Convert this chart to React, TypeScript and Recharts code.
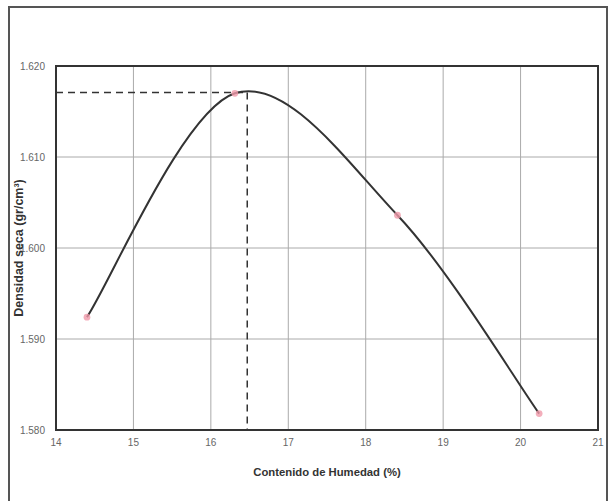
import React from 'react'
import {
  ComposedChart, Line, Scatter, XAxis, YAxis, ZAxis, CartesianGrid, ReferenceLine, ReferenceArea
} from 'recharts'

// measured points (humidity %, dry density)
const humidity = [14.4, 16.31, 18.41, 20.24]
const density = [1.5924, 1.617, 1.6036, 1.5818]

// optimum
const optHumidity = 16.47
const maxDensity = 1.6171

const xTicks = [14, 15, 16, 17, 18, 19, 20, 21]
const yTicks = [1.58, 1.59, 1.6, 1.61, 1.62]

const points = humidity.map((x, i) => ({ x, y: density[i] }))

const font = 'Liberation Sans, Arial, sans-serif'
const tickStyle = { fill: '#666', fontSize: 10, fontFamily: font }

// spreadsheet-style smoothed line (catmull-rom, 1/6 tangents, ends doubled)
function smoothCurve(context: any) {
  let pts: number[][] = []
  return {
    areaStart() {},
    areaEnd() {},
    lineStart() { pts = [] },
    lineEnd() {
      const n = pts.length
      if (!n) return
      context.moveTo(pts[0][0], pts[0][1])
      for (let i = 0; i < n - 1; i++) {
        const p0 = pts[Math.max(i - 1, 0)]
        const p1 = pts[i]
        const p2 = pts[i + 1]
        const p3 = pts[Math.min(i + 2, n - 1)]
        context.bezierCurveTo(
          p1[0] + (p2[0] - p0[0]) / 6, p1[1] + (p2[1] - p0[1]) / 6,
          p2[0] - (p3[0] - p1[0]) / 6, p2[1] - (p3[1] - p1[1]) / 6,
          p2[0], p2[1]
        )
      }
    },
    point(x: number, y: number) { pts.push([+x, +y]) },
  }
}

export default function App() {
  return (
    <div style={{ position: 'absolute', left: 0, top: 0, width: 608, height: 501, background: '#fff', overflow: 'hidden' }}>
      <div style={{
        position: 'absolute', left: 8, top: 6, width: 596, height: 520,
        borderLeft: '2px solid #555', borderTop: '2px solid #555', borderRight: '2px solid #555'
      }} />
      <ComposedChart
        width={608}
        height={501}
        margin={{ top: 66, right: 10, bottom: 41, left: 16 }}
        style={{ position: 'absolute', left: 0, top: 0 }}
      >
        <CartesianGrid stroke="#aaa" strokeWidth={1} horizontalValues={yTicks} verticalValues={xTicks} />
        <XAxis
          type="number"
          dataKey="x"
          domain={[14, 21]}
          ticks={xTicks}
          allowDataOverflow
          tick={tickStyle}
          tickLine={false}
          axisLine={false}
          tickSize={6}
          tickMargin={3}
          height={30}
          label={{
            value: 'Contenido de Humedad (%)', position: 'bottom', offset: 8,
            style: { fill: '#333', fontSize: 11.3, fontWeight: 700, fontFamily: font }
          }}
        />
        <YAxis
          type="number"
          dataKey="y"
          domain={[1.58, 1.62]}
          ticks={yTicks}
          allowDataOverflow
          tick={tickStyle}
          tickFormatter={(v: number) => v.toFixed(3)}
          tickLine={false}
          axisLine={false}
          tickSize={6}
          tickMargin={5}
          width={40}
          label={{
            value: 'Densidad seca (gr/cm³)', angle: -90, position: 'insideLeft', offset: 3,
            style: { fill: '#333', fontSize: 12.5, fontWeight: 700, fontFamily: font, textAnchor: 'middle' }
          }}
        />
        <ZAxis range={[36, 36]} />
        <ReferenceArea x1={14} x2={21} y1={1.58} y2={1.62} fill="none" stroke="#333" strokeWidth={2} ifOverflow="visible" />
        <ReferenceLine
          segment={[{ x: 14, y: maxDensity }, { x: optHumidity, y: maxDensity }]}
          stroke="#333"
          strokeWidth={1.5}
          strokeDasharray="7 5"
        />
        <ReferenceLine
          segment={[{ x: optHumidity, y: maxDensity }, { x: optHumidity, y: 1.58 }]}
          stroke="#333"
          strokeWidth={1.5}
          strokeDasharray="7 5"
        />
        <Line
          data={points}
          dataKey="y"
          type={smoothCurve as any}
          stroke="#333"
          strokeWidth={2}
          dot={false}
          isAnimationActive={false}
        />
        <Scatter data={points} dataKey="y" fill="#f09aaa" fillOpacity={0.8} shape="circle" isAnimationActive={false} />
      </ComposedChart>
    </div>
  )
}
